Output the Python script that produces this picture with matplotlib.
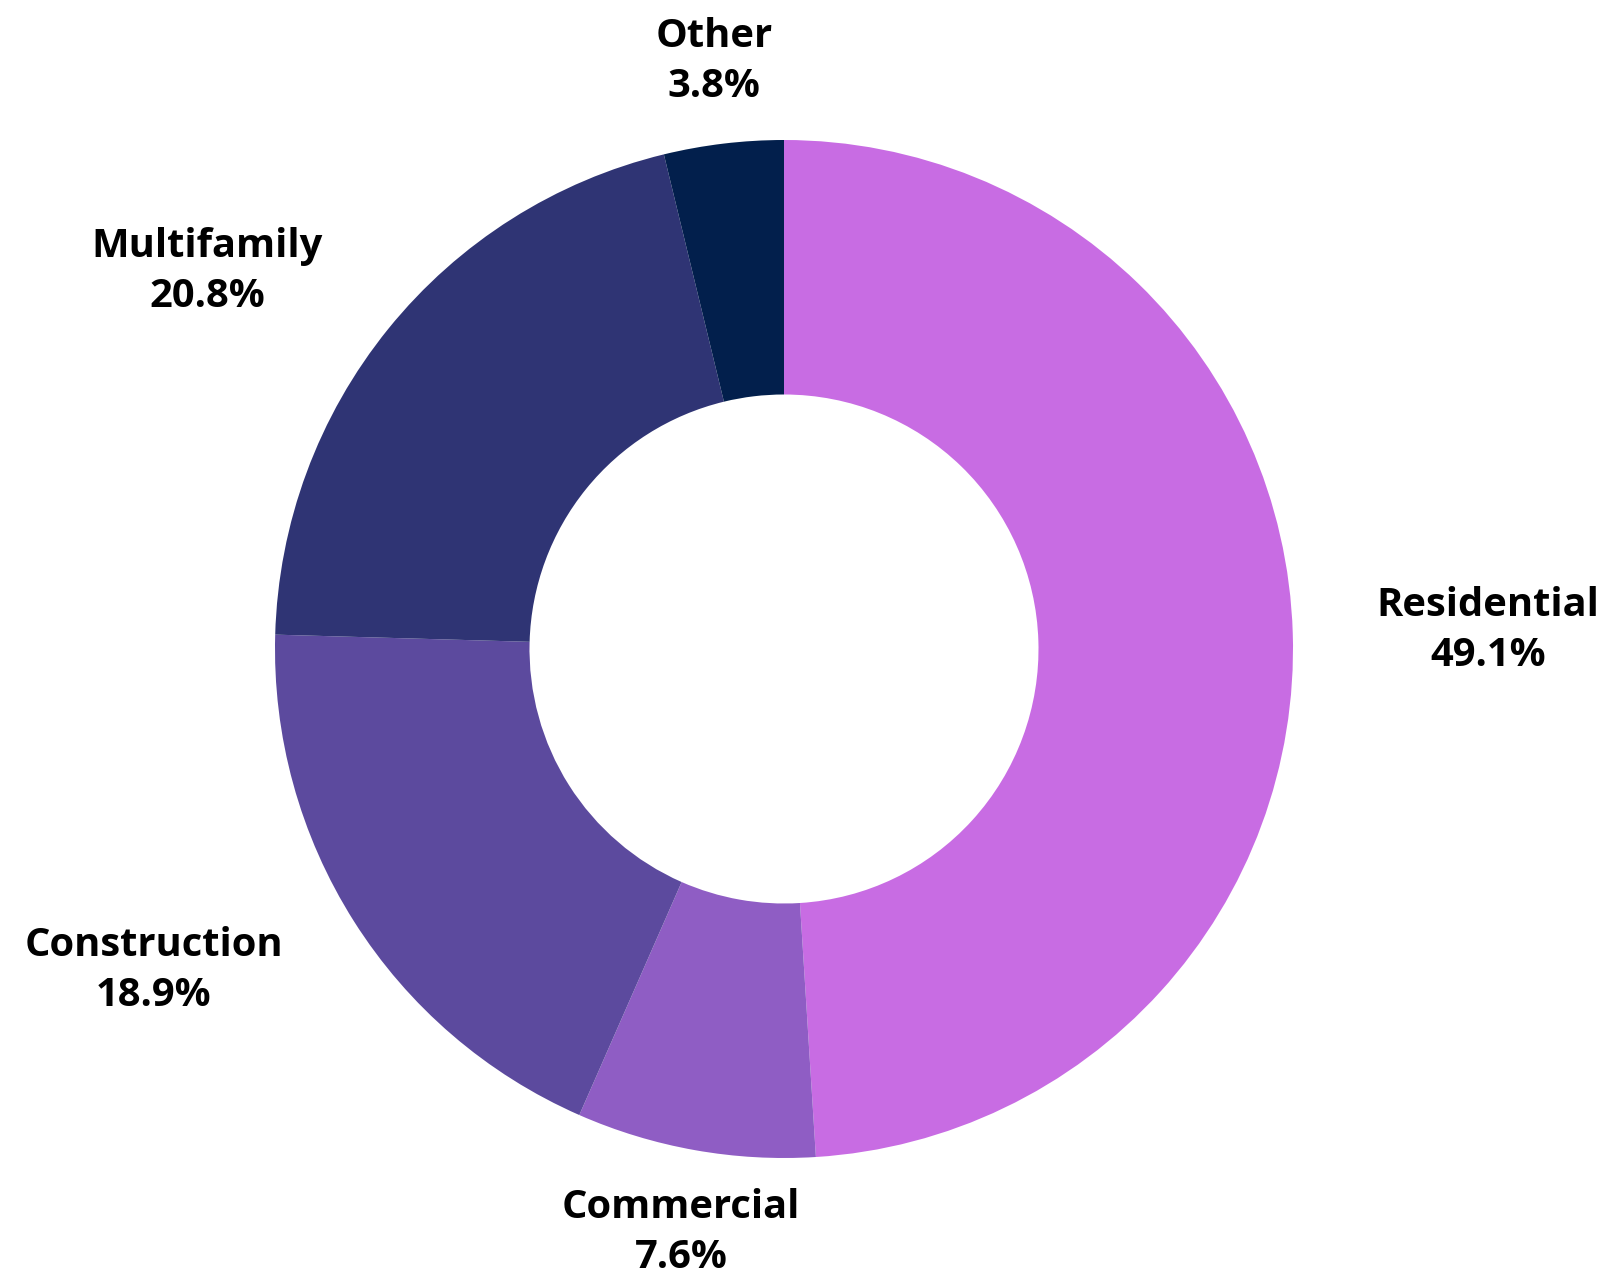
import numpy as np
import matplotlib
matplotlib.use("Agg")
import matplotlib.pyplot as plt

categories = ["Residential", "Commercial", "Construction", "Multifamily", "Other"]
values = [49.1, 7.6, 18.9, 20.8, 3.8]
colors = ["#C86CE3", "#8F5DC4", "#5C4A9E", "#2F3474", "#021F4C"]

W, H = 1606, 1275
fig = plt.figure(figsize=(W / 100, H / 100), dpi=100)
ax = fig.add_axes([0, 0, 1, 1])
ax.set_xlim(0, W)
ax.set_ylim(0, H)
ax.set_aspect("equal")
ax.axis("off")

cx, cy = 784, H - 649
R = 509
wedges, _ = ax.pie(values, colors=colors, startangle=90, counterclock=False,
                   center=(cx, cy), radius=R, normalize=True,
                   wedgeprops=dict(width=R * 0.5, linewidth=0))
ax.set_xlim(0, W)
ax.set_ylim(0, H)

total = sum(values)
cum = 0
for cat, v in zip(categories, values):
    mid = (cum + v / 2) / total
    cum += v
    ang = np.deg2rad(90 - mid * 360)
    c, s = np.cos(ang), np.sin(ang)
    if abs(c) < 0.3:
        ha = "center"
        va = "bottom" if s > 0 else "top"
        x = cx + 1.16 * R * c
        y = cy + 1.075 * R * s
    else:
        ha = "left" if c > 0 else "right"
        va = "center"
        x = cx + 1.165 * R * c
        y = cy + 1.18 * R * s
    ax.text(x, y, f"{cat}\n{v}%", ha=ha, va=va, ma="center",
            fontsize=28.7, fontweight="bold", family=["Open Sans", "DejaVu Sans"],
            color="black", linespacing=1.36)

fig.savefig("out.png", dpi=100, facecolor="white")
